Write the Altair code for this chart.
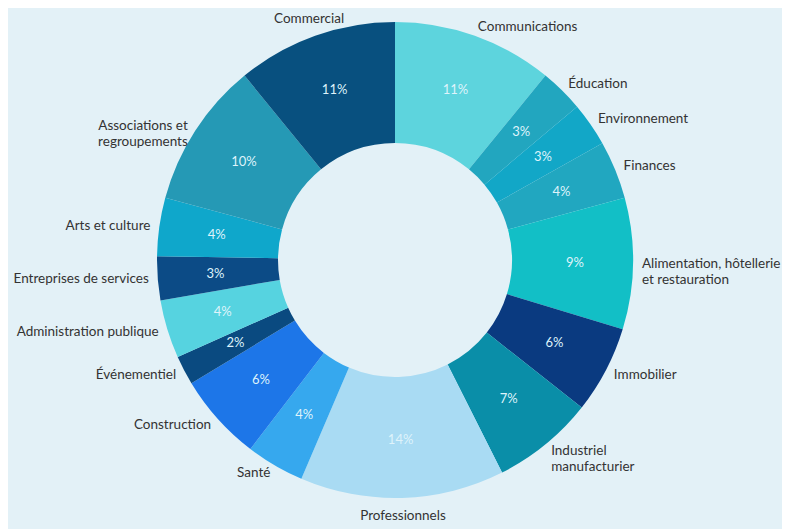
import altair as alt
import pandas as pd
import numpy as np

categories = [
    "Communications", "Éducation", "Environnement", "Finances",
    "Alimentation, hôtellerie et restauration", "Immobilier",
    "Industriel manufacturier", "Professionnels", "Santé", "Construction",
    "Événementiel", "Administration publique", "Entreprises de services",
    "Arts et culture", "Associations et regroupements", "Commercial",
]
labels = [
    "Communications", "Éducation", "Environnement", "Finances",
    "Alimentation, hôtellerie\net restauration", "Immobilier",
    "Industriel\nmanufacturier", "Professionnels", "Santé", "Construction",
    "Événementiel", "Administration publique", "Entreprises de services",
    "Arts et culture", "Associations et\nregroupements", "Commercial",
]
values = [11, 3, 3, 4, 9, 6, 7, 14, 4, 6, 2, 4, 3, 4, 10, 11]
colors = [
    "#5dd4dd", "#22a6bf", "#12a7c7", "#21a7c0", "#12bfc6", "#0a3a80",
    "#0a8ea8", "#a9dbf3", "#36a8ee", "#1d76e8", "#0a4a80", "#56d3e0",
    "#0c4b86", "#0fa7cb", "#2599b5", "#08507f",
]

vals = np.array(values, dtype=float)
total = vals.sum()
mid = (np.cumsum(vals) - vals / 2) / total * 360


def side_of(a):
    if 170 <= a <= 190 or a > 335:
        return "center"
    return "left" if a < 180 else "right"


df = pd.DataFrame({
    "cat": categories,
    "label": labels,
    "value": values,
    "order": list(range(len(values))),
    "pct": [f"{v}%" for v in values],
    "side": [side_of(a) for a in mid],
})

base = alt.Chart(df).encode(
    theta=alt.Theta("value:Q", stack=True),
    order=alt.Order("order:Q", sort="ascending"),
)

arcs = base.mark_arc(innerRadius=117, outerRadius=238).encode(
    color=alt.Color("cat:N", scale=alt.Scale(domain=categories, range=colors), legend=None)
)

pct = base.mark_text(radius=180, font="Lato", fontSize=13, color="#dff3fb").encode(
    text="pct:N"
)


def side_layer(s, align, r):
    return base.transform_calculate(
        t=f"datum.side == '{s}' ? datum.label : ''"
    ).mark_text(
        radius=r, align=align, baseline="middle", lineBreak="\n",
        font="Lato", fontSize=13.5, color="#333333", lineHeight=16,
    ).encode(text="t:N")


chart = alt.layer(
    arcs, pct,
    side_layer("left", "left", 247),
    side_layer("right", "right", 247),
    side_layer("center", "center", 256),
).properties(
    width=774, height=504, autosize="none",
    padding={"left": 0, "top": 0, "right": 0, "bottom": 17},
).configure(background="#e3f1f7").configure_view(stroke=None)

chart.save("out.html", embed_options={"renderer": "svg", "actions": False})
